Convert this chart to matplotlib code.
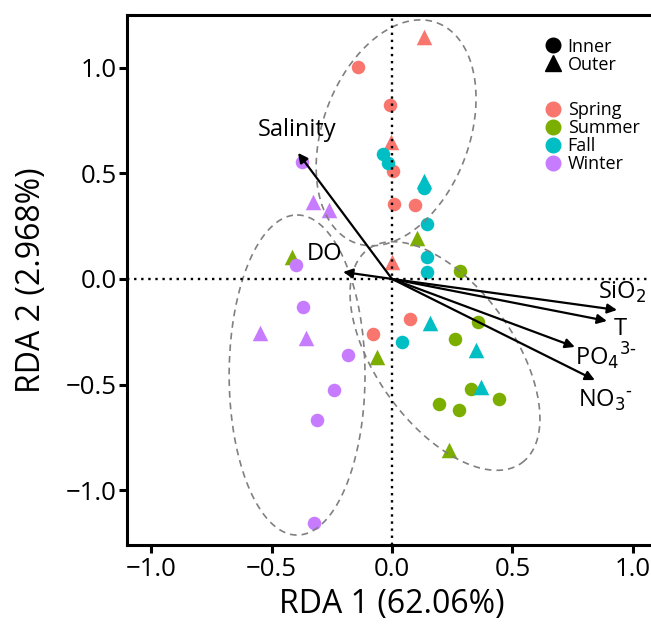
import numpy as np
import matplotlib.pyplot as plt
from matplotlib.lines import Line2D

plt.rcParams['font.family'] = ['Open Sans', 'DejaVu Sans']

# colours of the seasons (ggplot default hues)
seasons = ["Spring", "Summer", "Fall", "Winter"]
colors = ["#F8766D", "#7CAE00", "#00BFC4", "#C77CFF"]

# site scores: x, y, site (0 = Inner, 1 = Outer)
spring_x = [-0.141, 0.133, -0.008, -0.004, 0.004, 0.008, 0.095, 0.0, 0.075, -0.079]
spring_y = [1.005, 1.147, 0.825, 0.649, 0.512, 0.355, 0.351, 0.081, -0.190, -0.261]
spring_s = [0, 1, 0, 1, 0, 0, 0, 1, 0, 0]

summer_x = [-0.415, 0.104, 0.282, 0.357, 0.261, -0.062, 0.328, 0.444, 0.195, 0.278, 0.237]
summer_y = [0.104, 0.194, 0.038, -0.204, -0.284, -0.370, -0.521, -0.569, -0.592, -0.621, -0.810]
summer_s = [1, 1, 0, 0, 0, 1, 0, 0, 0, 0, 1]

fall_x = [-0.037, -0.017, 0.133, 0.133, 0.145, 0.145, 0.145, 0.158, 0.041, 0.349, 0.369]
fall_y = [0.592, 0.550, 0.464, 0.431, 0.261, 0.104, 0.033, -0.209, -0.299, -0.336, -0.512]
fall_s = [0, 0, 1, 0, 0, 0, 0, 1, 0, 1, 1]

winter_x = [-0.373, -0.328, -0.261, -0.398, -0.369, -0.548, -0.357, -0.183, -0.241, -0.311, -0.324]
winter_y = [0.555, 0.365, 0.327, 0.066, -0.133, -0.256, -0.280, -0.360, -0.526, -0.668, -1.156]
winter_s = [0, 1, 1, 0, 0, 1, 1, 0, 0, 0, 0]

# environmental vectors
env_names = ["Salinity", "DO", "SiO$_2$", "T", "PO$_4$$^{3\\text{-}}$", "NO$_3$$^{\\text{-}}$"]
env_x = [-0.390, -0.203, 0.934, 0.892, 0.759, 0.842]
env_y = [0.597, 0.033, -0.147, -0.199, -0.322, -0.479]
lab_x = [-0.394, -0.278, 0.954, 0.946, 0.888, 0.888]
lab_y = [0.706, 0.118, -0.062, -0.237, -0.365, -0.573]

# cluster ellipses: centre, half major axis vector, half minor axis vector
ell_cx = [0.017, 0.220, -0.394]
ell_cy = [0.692, -0.365, -0.455]
ell_ax = [0.170, 0.320, 0.0]
ell_ay = [0.521, -0.505, 0.758]
ell_bx = [0.285, 0.230, 0.282]
ell_by = [-0.121, 0.195, 0.0]

fig = plt.figure(figsize=(6.51, 6.26), dpi=100)
ax = fig.add_axes([127/651, 81/626, 530/651, 530/626])

groups = [(spring_x, spring_y, spring_s), (summer_x, summer_y, summer_s),
          (fall_x, fall_y, fall_s), (winter_x, winter_y, winter_s)]
for (gx, gy, gs), col in zip(groups, colors):
    gx, gy, gs = np.array(gx), np.array(gy), np.array(gs)
    ax.scatter(gx[gs == 0], gy[gs == 0], s=95, marker='o', color=col, lw=0, zorder=2)
    ax.scatter(gx[gs == 1], gy[gs == 1], s=125, marker='^', color=col, lw=0, zorder=2)

t = np.linspace(0, 2*np.pi, 300)
for i in range(3):
    ex = ell_cx[i] + ell_ax[i]*np.cos(t) + ell_bx[i]*np.sin(t)
    ey = ell_cy[i] + ell_ay[i]*np.cos(t) + ell_by[i]*np.sin(t)
    ax.plot(ex, ey, color='#808080', lw=1.2, dashes=(4, 3), zorder=3)

ax.axhline(0, color='black', lw=1.7, ls=(0, (1, 2)), zorder=4)
ax.axvline(0, color='black', lw=1.7, ls=(0, (1, 2)), zorder=4)

for i in range(len(env_names)):
    ax.annotate("", xy=(env_x[i], env_y[i]), xytext=(0, 0),
                arrowprops=dict(arrowstyle='-|>', color='black', lw=1.6,
                                mutation_scale=14, shrinkA=0, shrinkB=0), zorder=5)
    ax.text(lab_x[i], lab_y[i], env_names[i], fontsize=17, ha='center', va='center', zorder=5)

ax.set_xlim(-1.1, 1.1)
ax.set_ylim(-1.26, 1.25)
ax.set_xticks([-1.0, -0.5, 0.0, 0.5, 1.0])
ax.set_yticks([-1.0, -0.5, 0.0, 0.5, 1.0])
ax.tick_params(labelsize=18.5, width=2.2, length=6, color='black')
ax.tick_params(axis='y', pad=1.5)
ax.tick_params(axis='x', pad=3)
for sp in ax.spines.values():
    sp.set_linewidth(2.2)
ax.set_xlabel("RDA 1 (62.06%)", fontsize=23, labelpad=4)
ax.set_ylabel("RDA 2 (2.968%)", fontsize=23, labelpad=13)

site_handles = [Line2D([], [], marker='o', color='black', ls='', markersize=10.5),
                Line2D([], [], marker='^', color='black', ls='', markersize=11)]
leg1 = ax.legend(site_handles, ["Inner", "Outer"], loc='upper left', bbox_to_anchor=(0.787, 0.957),
                 frameon=False, fontsize=13, handletextpad=0.3, labelspacing=0.0,
                 handlelength=1.0, borderpad=0, borderaxespad=0)
ax.add_artist(leg1)
season_handles = [Line2D([], [], marker='o', color=c, ls='', markersize=10.5) for c in colors]
ax.legend(season_handles, seasons, loc='upper left', bbox_to_anchor=(0.787, 0.837),
          frameon=False, fontsize=13, handletextpad=0.3, labelspacing=0.0,
          handlelength=1.0, borderpad=0, borderaxespad=0)

fig.savefig("out.png", dpi=100)
